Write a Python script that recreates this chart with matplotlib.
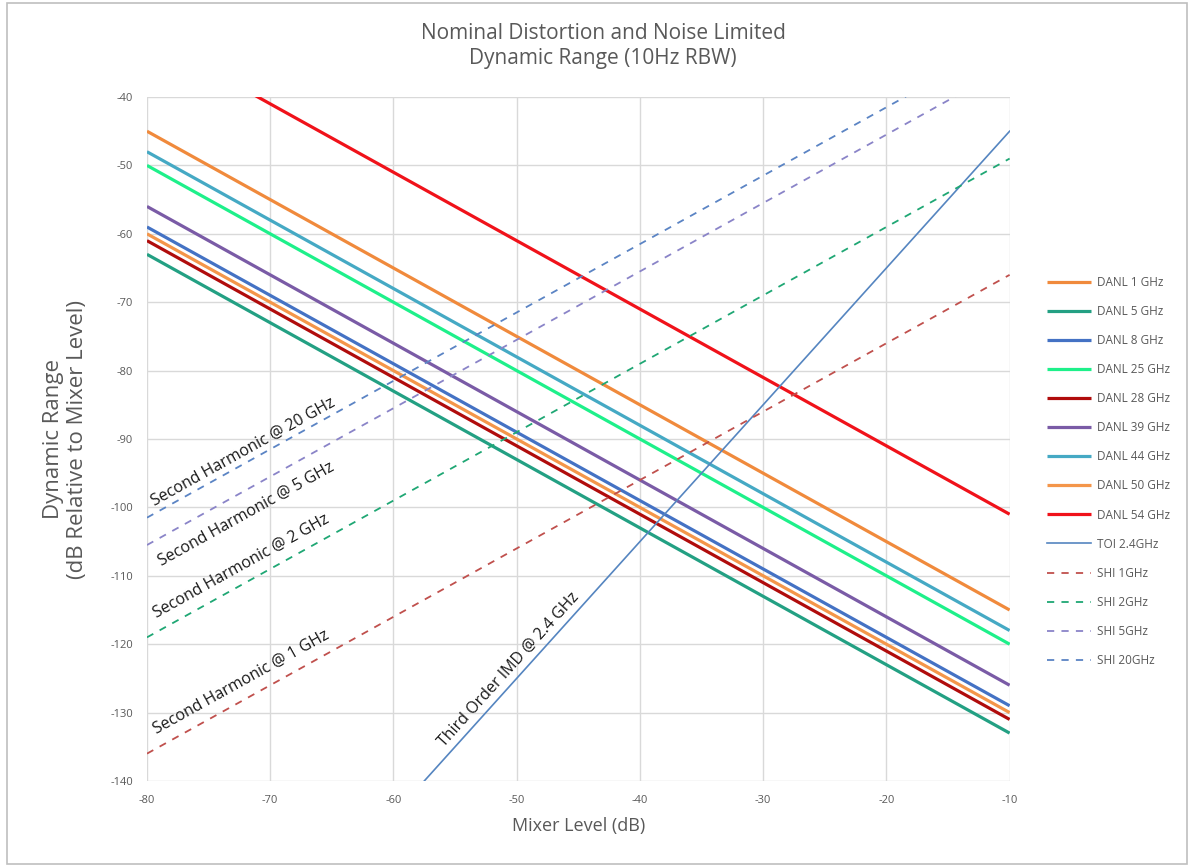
import matplotlib
matplotlib.use("Agg")
import matplotlib.pyplot as plt
from matplotlib.patches import Rectangle

plt.rcParams['font.family'] = ['Open Sans', 'DejaVu Sans']
plt.rcParams['axes.unicode_minus'] = False

# mixer level end points (dB)
mixer = [-80, -10]

# displayed average noise level lines
danl_labels = ["DANL 1 GHz", "DANL 5 GHz", "DANL 8 GHz", "DANL 25 GHz", "DANL 28 GHz",
               "DANL 39 GHz", "DANL 44 GHz", "DANL 50 GHz", "DANL 54 GHz"]
danl_start = [-45, -63, -59, -50, -61, -56, -48, -60, -31]
danl_end = [-115, -133, -129, -120, -131, -126, -118, -130, -101]
danl_colors = ["#F08A3C", "#23A083", "#4472C4", "#1EF08A", "#B00C0C",
               "#7A5BA6", "#45A9C4", "#F4964A", "#F0121A"]

# third order intercept
toi_label = "TOI 2.4GHz"
toi_x = [-57.5, -10]
toi_y = [-140, -45]

# second harmonic intercept lines
shi_labels = ["SHI 1GHz", "SHI 2GHz", "SHI 5GHz", "SHI 20GHz"]
shi_start = [-136, -119, -105.5, -101.5]
shi_end = [-66, -49, -35.5, -31.5]
shi_colors = ["#C0504D", "#1FA774", "#8A84C8", "#5B84C4"]

fig = plt.figure(figsize=(11.92, 8.67), dpi=100)
ax = fig.add_axes([0.1233, 0.0992, 0.7237, 0.7889])

for lab, y0, y1, c in zip(danl_labels, danl_start, danl_end, danl_colors):
    ax.plot(mixer, [y0, y1], color=c, lw=2.3, label=lab, solid_capstyle="butt")

ax.plot(toi_x, toi_y, color="#5585C0", lw=1.2, label=toi_label)

for lab, y0, y1, c in zip(shi_labels, shi_start, shi_end, shi_colors):
    ax.plot(mixer, [y0, y1], color=c, lw=1.3, ls=(0, (4, 4)), label=lab)

ax.set_xlim(-80, -10)
ax.set_ylim(-140, -40)
ax.set_xticks(range(-80, -9, 10))
ax.set_yticks(range(-140, -39, 10))
ax.grid(True, color="#D9D9D9", lw=1)
ax.set_axisbelow(True)
for s in ax.spines.values():
    s.set_visible(False)
ax.tick_params(length=0, labelsize=8, labelcolor="#595959", pad=10)

ax.set_xlabel("Mixer Level (dB)", fontsize=13, color="#595959", labelpad=8)
ax.set_ylabel("Dynamic Range\n(dB Relative to Mixer Level)", fontsize=16,
              color="#595959", labelpad=16)
fig.text(0.506, 0.947, "Nominal Distortion and Noise Limited\nDynamic Range (10Hz RBW)",
         ha="center", va="center", fontsize=15, color="#595959", linespacing=1.3)

# annotations along the lines
notes = [
    ("Second Harmonic @ 20 GHz", -79.4, -99.8, 45),
    ("Second Harmonic @ 5 GHz", -78.8, -108.6, 45),
    ("Second Harmonic @ 2 GHz", -79.2, -116.2, 45),
    ("Second Harmonic @ 1 GHz", -79.2, -133.2, 45),
    ("Third Order IMD @ 2.4 GHz", -55.9, -135.0, 63.4),
]
for txt, x, y, ang in notes:
    ax.text(x, y, txt, rotation=ang, transform_rotates_text=True,
            rotation_mode="anchor", ha="left", va="baseline",
            fontsize=11.5, color="#1a1a1a")

fig.legend(loc="upper left", bbox_to_anchor=(0.874, 0.687), frameon=False,
           fontsize=8.5, labelcolor="#595959", handlelength=3.8,
           labelspacing=1.36, handletextpad=0.45, borderaxespad=0)

fig.patches.append(Rectangle((0.006, 0.004), 0.99, 0.992, transform=fig.transFigure,
                             fill=False, edgecolor="#BFBFBF", lw=1.2))

fig.savefig("out.png", dpi=100)
